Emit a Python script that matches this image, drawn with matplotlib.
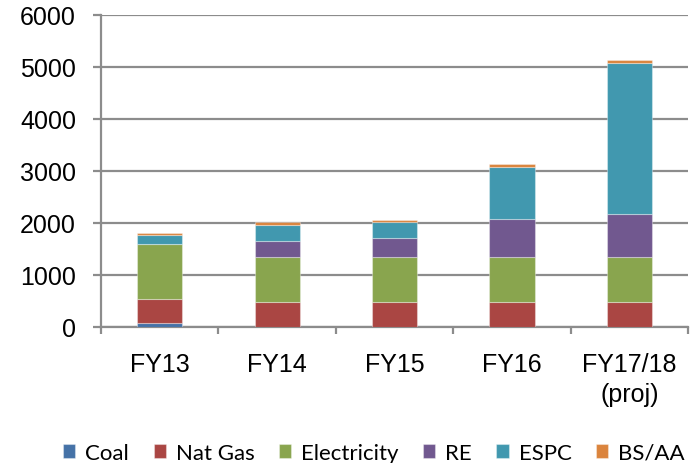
import matplotlib
matplotlib.use("Agg")
import matplotlib.pyplot as plt
import numpy as np

plt.rcParams["font.family"] = ["Liberation Sans", "DejaVu Sans"]

categories = ["FY13", "FY14", "FY15", "FY16", "FY17/18\n(proj)"]
coal = [80, 0, 0, 0, 0]
nat_gas = [460, 480, 480, 480, 480]
electricity = [1060, 870, 870, 870, 870]
re = [0, 300, 350, 730, 820]
espc = [160, 310, 310, 1000, 2900]
bs_aa = [50, 50, 50, 50, 50]

series = [("Coal", coal, "#4572A7"),
          ("Nat Gas", nat_gas, "#AA4643"),
          ("Electricity", electricity, "#89A54E"),
          ("RE", re, "#71588F"),
          ("ESPC", espc, "#4198AF"),
          ("BS/AA", bs_aa, "#DB843D")]

fig = plt.figure(figsize=(6.99, 4.64), dpi=100)
ax = fig.add_axes([0.1445, 0.2937, 0.8398, 0.6725])

x = np.arange(len(categories))
bottom = np.zeros(len(categories))
handles = []
for name, vals, col in series:
    v = np.array(vals, dtype=float)
    b = ax.bar(x, v, width=0.385, bottom=bottom, color=col, label=name,
               edgecolor=(1, 1, 1, 0.35), linewidth=0.8, zorder=3)
    handles.append(b)
    bottom += v

grid_col = "#8c8c8c"
ax.set_ylim(0, 6000)
ax.set_xlim(-0.5, len(categories) - 0.5)
ax.set_yticks(np.arange(0, 6001, 1000))
ax.yaxis.grid(True, color=grid_col, linewidth=1.6, zorder=0)
ax.set_axisbelow(True)

for s in ["top", "right"]:
    ax.spines[s].set_visible(False)
for s in ["left", "bottom"]:
    ax.spines[s].set_color(grid_col)
    ax.spines[s].set_linewidth(1.6)

ax.tick_params(axis="y", length=6, width=1.6, color=grid_col, pad=12,
               labelsize=18)

ax.set_xticks(np.arange(-0.5, len(categories), 1.0))
ax.set_xticklabels([])
ax.tick_params(axis="x", which="major", length=5, width=1.6, color=grid_col)
ax.set_xticks(x, minor=True)
ax.set_xticklabels(categories, minor=True, fontsize=18, linespacing=1.35)
ax.tick_params(axis="x", which="minor", length=0, pad=18)

leg = fig.legend(handles=handles, labels=[s[0] for s in series],
                 loc="center", bbox_to_anchor=(0.535, 0.022), ncol=6,
                 frameon=False, prop={"family": "Lato", "size": 16},
                 handlelength=0.55, handleheight=0.55, handletextpad=0.45,
                 columnspacing=1.1, borderaxespad=0)

fig.savefig("out.png", dpi=100)
